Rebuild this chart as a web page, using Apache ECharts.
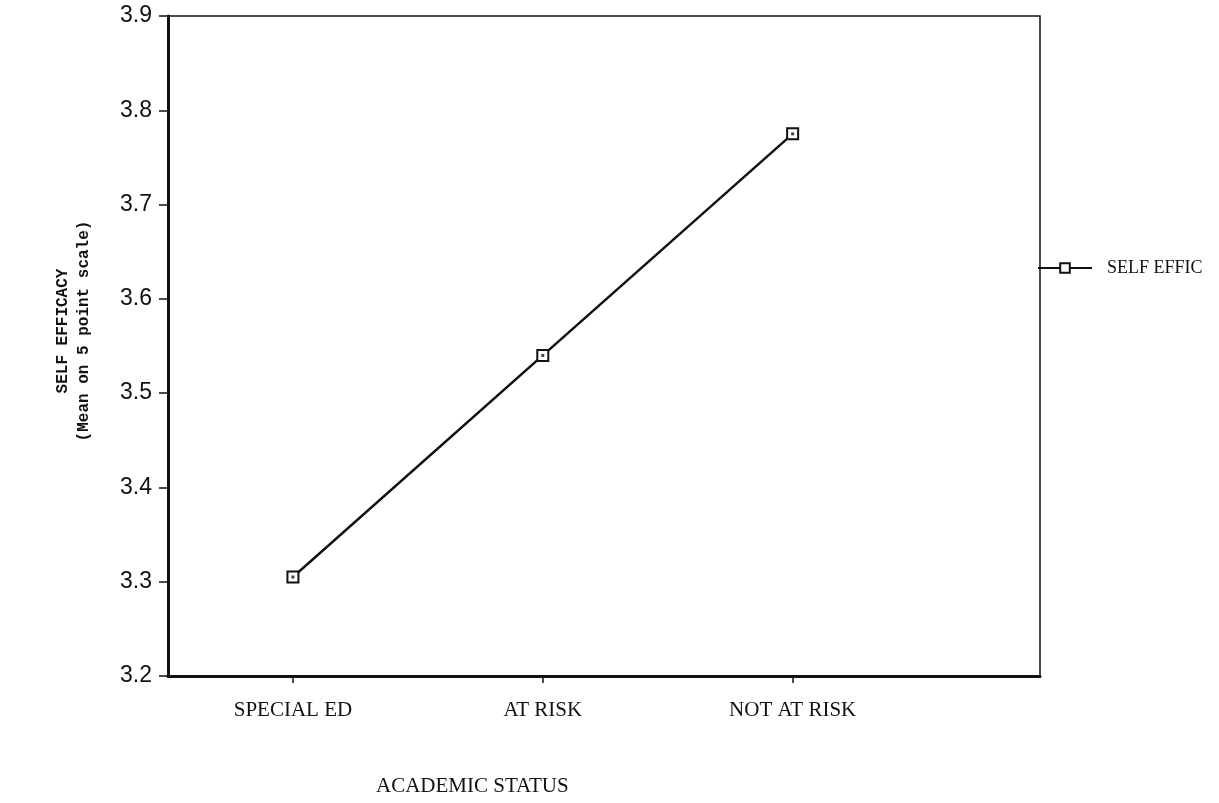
<!DOCTYPE html>
<html>
<head>
<meta charset="utf-8">
<script src="https://cdn.jsdelivr.net/npm/echarts@6/dist/echarts.min.js"></script>
<style>
  html, body { margin: 0; padding: 0; background: #fff; }
  #chart { width: 1219px; height: 803px; }
</style>
</head>
<body>
<div id="chart"></div>
<script>
// Data
const categories = ['SPECIAL ED', 'AT RISK', 'NOT AT RISK'];
const selfEfficacy = [3.305, 3.54, 3.775];
const yTicks = [3.2, 3.3, 3.4, 3.5, 3.6, 3.7, 3.8, 3.9];

const points = selfEfficacy.map((v, i) => [i, v]);
const serif = '"Liberation Serif", "DejaVu Serif", serif';

const chart = echarts.init(document.getElementById('chart'));

const option = {
    backgroundColor: '#fff',
    animation: false,
    title: {
        text: 'ACADEMIC STATUS',
        left: 376,
        top: 776,
        padding: 0,
        textStyle: { fontFamily: serif, fontSize: 21, fontWeight: 'normal', color: '#111' }
    },
    legend: {
        data: ['SELF EFFIC'],
        left: 1032,
        top: 254,
        itemWidth: 54,
        itemHeight: 12,
        itemGap: 10,
        textStyle: { fontFamily: serif, fontSize: 18, color: '#111', padding: [0, 0, 0, 10] }
    },
    grid: {
        left: 168,
        right: 179,
        top: 16,
        bottom: 127,
        show: true,
        borderColor: '#111',
        borderWidth: 1.5
    },
    xAxis: {
        type: 'value',
        min: -0.5,
        max: 2.99,
        axisLine: { show: true, onZero: false, lineStyle: { color: '#111', width: 3 } },
        axisTick: { show: true, customValues: [0, 1, 2], length: 7, lineStyle: { color: '#111', width: 1.5 } },
        axisLabel: {
            customValues: [0, 1, 2],
            formatter: v => categories[Math.round(v)],
            margin: 24,
            fontFamily: serif,
            fontSize: 21,
            color: '#111'
        },
        splitLine: { show: false }
    },
    yAxis: {
        type: 'value',
        min: yTicks[0],
        max: yTicks[yTicks.length - 1],
        interval: 0.1,
        name: 'SELF EFFICACY\n(Mean on 5 point scale)',
        nameLocation: 'middle',
        nameRotate: 90,
        nameGap: 74,
        nameTextStyle: {
            fontFamily: '"Liberation Mono", "DejaVu Sans Mono", monospace',
            fontWeight: 'bold',
            fontSize: 16,
            lineHeight: 21,
            color: '#111',
            padding: [0, 0, 0, 30]
        },
        axisLine: { show: true, onZero: false, lineStyle: { color: '#111', width: 3 } },
        axisTick: { show: true, length: 9, lineStyle: { color: '#111', width: 1.5 } },
        axisLabel: {
            formatter: v => v.toFixed(1),
            margin: 16,
            fontFamily: '"Liberation Sans", Arial, sans-serif',
            fontSize: 23,
            color: '#111'
        },
        splitLine: { show: false }
    },
    series: [
        {
            name: 'SELF EFFIC',
            type: 'line',
            data: points,
            symbol: 'rect',
            symbolSize: 11,
            itemStyle: { color: '#fff', borderColor: '#111', borderWidth: 2 },
            lineStyle: { color: '#111', width: 2.5 },
            z: 3
        },
        {
            // centre dot inside each square marker
            name: 'dot',
            type: 'scatter',
            data: points,
            symbol: 'rect',
            symbolSize: 3,
            itemStyle: { color: '#111' },
            silent: true,
            z: 4
        }
    ]
};

chart.setOption(option);
</script>
</body>
</html>
